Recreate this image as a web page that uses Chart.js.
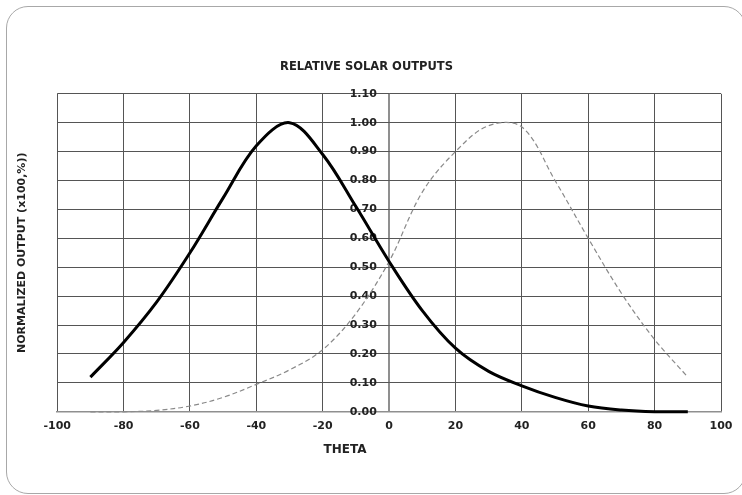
<!DOCTYPE html>
<html>
<head>
<meta charset="utf-8">
<script src="https://cdn.jsdelivr.net/npm/chart.js@4/dist/chart.umd.min.js"></script>
<style>
  html, body { margin: 0; padding: 0; background: #fff; overflow: hidden; }
  #wrap { position: relative; width: 742px; height: 495px; }
  #frame { position: absolute; left: 6px; top: 6px; width: 740px; height: 488px; box-sizing: border-box;
           border: 1.5px solid #a8a8a8; border-radius: 22px; pointer-events: none; }
  canvas { position: absolute; left: 0; top: 0; }
</style>
</head>
<body>
<div id="wrap">
  <canvas id="c" width="742" height="495"></canvas>
  <div id="frame"></div>
</div>
<script>
// ---- data ----
const thetas = [-90, -80, -70, -60, -50, -40, -30, -20, -10, 0, 10, 20, 30, 40, 50, 60, 70, 80, 90];
const solidOutput = [0.12, 0.24, 0.38, 0.55, 0.74, 0.92, 1.00, 0.89, 0.71, 0.52, 0.35, 0.22, 0.14, 0.09, 0.05, 0.02, 0.006, 0.00, 0.00];
const dashedOutput = [0.00, 0.00, 0.005, 0.02, 0.05, 0.095, 0.145, 0.215, 0.34, 0.52, 0.76, 0.90, 0.99, 0.985, 0.80, 0.60, 0.41, 0.25, 0.12];
const xTicks = [-100, -80, -60, -40, -20, 0, 20, 40, 60, 80, 100];
const yTicks = [0, 0.1, 0.2, 0.3, 0.4, 0.5, 0.6, 0.7, 0.8, 0.9, 1.0, 1.1];
const chartTitle = 'RELATIVE SOLAR OUTPUTS';
const xTitle = 'THETA';
const yTitle = 'NORMALIZED OUTPUT (x100,%))';

const FONT = '"DejaVu Sans", Arial, sans-serif';

const toXY = (vals) => thetas.map((t, i) => ({ x: t, y: vals[i] }));

const xTitlePlugin = {
  id: 'xTitlePlugin',
  afterDraw(chart) {
    const ctx = chart.ctx;
    const xs = chart.scales.x;
    ctx.save();
    ctx.font = 'bold 12px ' + FONT;
    ctx.fillStyle = '#222';
    ctx.textAlign = 'center';
    ctx.textBaseline = 'middle';
    ctx.fillText(xTitle, xs.getPixelForValue(-13.3), chart.chartArea.bottom + 38);
    ctx.restore();
  }
};

new Chart(document.getElementById('c'), {
  type: 'line',
  data: {
    datasets: [
      {
        data: toXY(solidOutput),
        borderColor: '#000',
        borderWidth: 3,
        pointRadius: 0,
        tension: 0.35,
        clip: 4
      },
      {
        data: toXY(dashedOutput),
        borderColor: '#8a8a8a',
        borderWidth: 1.2,
        borderDash: [5, 3],
        pointRadius: 0,
        tension: 0.35,
        clip: 4
      }
    ]
  },
  options: {
    responsive: false,
    animation: false,
    events: [],
    layout: { padding: { top: 0, left: 12, right: 21, bottom: 54 } },
    plugins: {
      legend: { display: false },
      tooltip: { enabled: false },
      title: {
        display: true,
        text: chartTitle,
        color: '#222',
        font: { family: FONT, size: 11.5, weight: 'bold' },
        padding: { top: 60, bottom: 20 }
      }
    },
    scales: {
      x: {
        type: 'linear',
        position: 'bottom',
        min: xTicks[0],
        max: xTicks[xTicks.length - 1],
        afterBuildTicks: (s) => { s.ticks = xTicks.map(v => ({ value: v })); },
        grid: {
          color: (c) => (c.tick && c.tick.value === 0) ? '#8f8f8f' : '#555',
          lineWidth: (c) => (c.tick && c.tick.value === 0) ? 2 : 1,
          drawTicks: false
        },
        border: { color: '#8f8f8f', width: 1.5 },
        ticks: {
          color: '#222',
          font: { family: FONT, size: 11, weight: 'bold' },
          padding: 8,
          maxRotation: 0,
          autoSkip: false,
          callback: (v) => String(v)
        }
      },
      y: {
        type: 'linear',
        position: { x: -3.7 },
        min: 0,
        max: 1.1,
        afterBuildTicks: (s) => { s.ticks = yTicks.map(v => ({ value: v })); },
        grid: { color: '#555', lineWidth: 1, drawTicks: false },
        border: { display: false },
        ticks: {
          color: '#222',
          font: { family: FONT, size: 11, weight: 'bold' },
          autoSkip: false,
          callback: (v) => Number(v).toFixed(2)
        }
      },
      yTitleAxis: {
        type: 'linear',
        position: 'left',
        min: 0,
        max: 1.1,
        grid: { display: false, drawTicks: false },
        border: { display: false },
        ticks: { display: false },
        title: {
          display: true,
          text: yTitle,
          color: '#222',
          font: { family: FONT, size: 11, weight: 'bold' },
          padding: { top: 4, bottom: 28 }
        }
      }
    }
  },
  plugins: [xTitlePlugin]
});
</script>
</body>
</html>
